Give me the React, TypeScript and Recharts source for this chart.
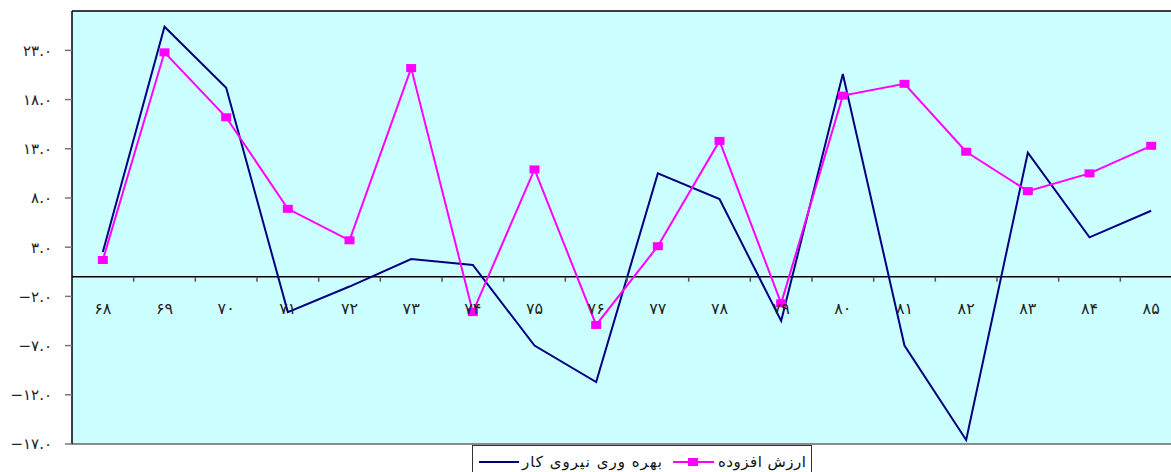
import React from "react";
import {
    LineChart,
    Line,
    XAxis,
    YAxis,
    CartesianGrid,
    ReferenceLine,
} from "recharts";

// سال‌ها (۱۳۶۸ تا ۱۳۸۵)
const years = [
    "۶۸", "۶۹", "۷۰", "۷۱", "۷۲", "۷۳", "۷۴", "۷۵", "۷۶",
    "۷۷", "۷۸", "۷۹", "۸۰", "۸۱", "۸۲", "۸۳", "۸۴", "۸۵",
];

const productivity = [
    2.5, 25.4, 19.2, -3.6, -1.0, 1.8, 1.2, -7.0, -10.7,
    10.5, 7.9, -4.5, 20.6, -7.0, -16.6, 12.6, 4.0, 6.7,
];

const valueAdded = [
    1.7, 22.8, 16.2, 6.9, 3.7, 21.2, -3.6, 10.9, -4.9,
    3.1, 13.8, -2.7, 18.4, 19.6, 12.7, 8.7, 10.5, 13.3,
];

const seriesNames = ["بهره وری نیروی کار", "ارزش افزوده"];

const yTicks = [-17, -12, -7, -2, 3, 8, 13, 18, 23];
const yTickLabels = [
    "−۱۷.۰", "−۱۲.۰", "−۷.۰", "−۲.۰", "۳.۰", "۸.۰", "۱۳.۰", "۱۸.۰", "۲۳.۰",
];

const Y_MIN = -17;
const Y_MAX = 27;

const CHART_W = 1183;
const CHART_H = 472;
const X_AXIS_H = 2;
const MARGIN = { top: 11, right: 1, bottom: 28 - X_AXIS_H, left: 0 };
const Y_AXIS_W = 72;
const PLOT_W = CHART_W - MARGIN.left - MARGIN.right - Y_AXIS_W;
const PLOT_H = CHART_H - MARGIN.top - MARGIN.bottom - X_AXIS_H;
const BAND = PLOT_W / years.length;
const ZERO_Y = MARGIN.top + (PLOT_H * Y_MAX) / (Y_MAX - Y_MIN);

const FONT = "'DejaVu Sans', sans-serif";

const data = years.map((year, i) => ({
    year,
    productivity: productivity[i],
    valueAdded: valueAdded[i],
}));

// labels sit under the zero line, tick marks between categories
const XTick = (props: any) => {
    const { x, payload, index } = props;
    return (
        <g>
            {index > 0 && (
                <line
                    x1={x - BAND / 2}
                    x2={x - BAND / 2}
                    y1={ZERO_Y}
                    y2={ZERO_Y + 5}
                    stroke="#555"
                    strokeWidth={1.5}
                />
            )}
            <text
                x={x}
                y={ZERO_Y + 37}
                textAnchor="middle"
                fontSize={16}
                fontFamily={FONT}
                fill="#222"
            >
                {payload.value}
            </text>
        </g>
    );
};

const SquareDot = (props: any) => {
    const { cx, cy } = props;
    if (cx == null || cy == null) return null;
    return <rect x={cx - 5} y={cy - 4} width={10} height={8} fill="#FF00FF" />;
};

const LegendBox = () => (
    <svg
        width={340}
        height={28}
        style={{ position: "absolute", left: 472, top: 445 }}
    >
        <rect x={0.5} y={0.5} width={339} height={30} fill="#fff" stroke="#333" />
        <line x1={7} x2={47} y1={17} y2={17} stroke="#000080" strokeWidth={2} />
        <text
            x={50}
            y={22}
            textLength={140}
            lengthAdjust="spacing"
            fontSize={15}
            fontFamily={FONT}
            fill="#111"
        >
            {seriesNames[0]}
        </text>
        <line x1={201} x2={242} y1={17} y2={17} stroke="#FF00FF" strokeWidth={2} />
        <rect x={216} y={13} width={10} height={8} fill="#FF00FF" />
        <text
            x={246}
            y={22}
            textLength={88}
            lengthAdjust="spacing"
            fontSize={15}
            fontFamily={FONT}
            fill="#111"
        >
            {seriesNames[1]}
        </text>
    </svg>
);

export default function App() {
    return (
        <div
            style={{
                position: "fixed",
                left: 0,
                top: 0,
                width: 1171,
                height: 472,
                overflow: "hidden",
                background: "#fff",
            }}
        >
            <LineChart width={CHART_W} height={CHART_H} data={data} margin={MARGIN}>
                <CartesianGrid
                    horizontal={false}
                    vertical={false}
                    fill="#CCFFFF"
                />
                <XAxis
                    dataKey="year"
                    height={X_AXIS_H}
                    axisLine={false}
                    tickLine={false}
                    interval={0}
                    padding={{ left: BAND / 2, right: BAND / 2 }}
                    tick={XTick}
                />
                <YAxis
                    width={Y_AXIS_W}
                    domain={[Y_MIN, Y_MAX]}
                    ticks={yTicks}
                    interval={0}
                    allowDataOverflow
                    axisLine={{ stroke: "#000", strokeWidth: 1.5 }}
                    tickLine={{ stroke: "#777", strokeWidth: 1.5 }}
                    tickSize={7}
                    tickMargin={13}
                    tick={{ fontSize: 15, fontFamily: FONT, fill: "#222" }}
                    tickFormatter={(v: number) => yTickLabels[yTicks.indexOf(v)] ?? ""}
                />
                <ReferenceLine y={Y_MAX} stroke="#000" strokeWidth={1.5} />
                <ReferenceLine y={Y_MIN} stroke="#666" strokeWidth={1.5} />
                <ReferenceLine y={0} stroke="#000" strokeWidth={1.5} />
                <Line
                    type="linear"
                    dataKey="productivity"
                    name={seriesNames[0]}
                    stroke="#000080"
                    strokeWidth={2}
                    dot={false}
                    activeDot={false}
                    isAnimationActive={false}
                />
                <Line
                    type="linear"
                    dataKey="valueAdded"
                    name={seriesNames[1]}
                    stroke="#FF00FF"
                    strokeWidth={2}
                    dot={<SquareDot />}
                    activeDot={false}
                    isAnimationActive={false}
                />
            </LineChart>
            <LegendBox />
        </div>
    );
}
